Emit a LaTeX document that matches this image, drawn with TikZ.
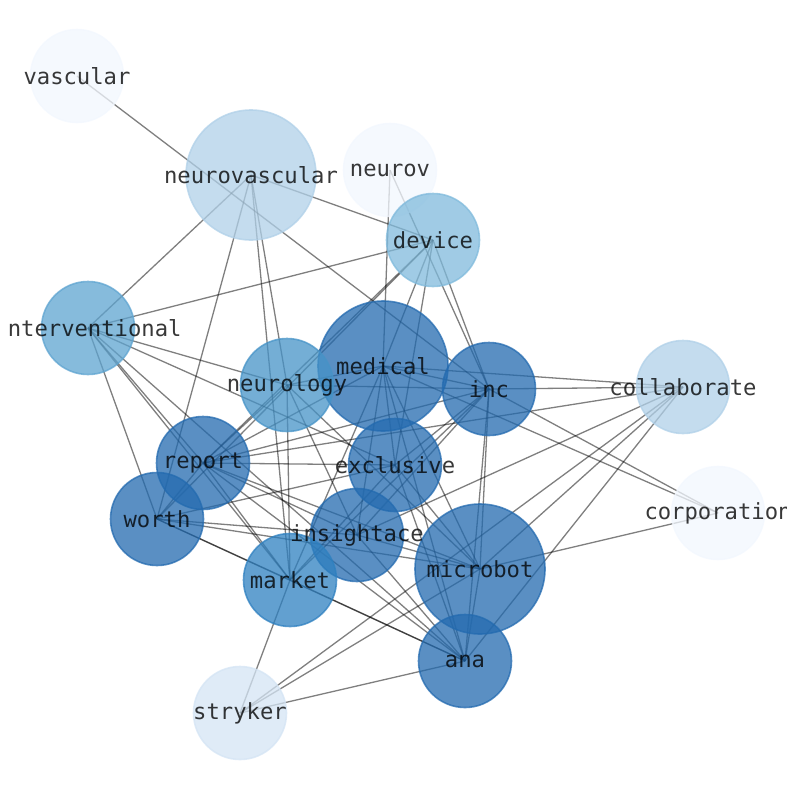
\documentclass[tikz,border=0pt]{standalone}
\usepackage{fontspec}
\newfontfamily\monofont{DejaVu Sans Mono}
\usetikzlibrary{backgrounds}
\definecolor{bl9}{HTML}{236AAF}
\definecolor{bl8}{HTML}{2E80C0}
\definecolor{bl7}{HTML}{4693C7}
\definecolor{bl6}{HTML}{5EA4D0}
\definecolor{bl5}{HTML}{80BADC}
\definecolor{bl3}{HTML}{B0D0E8}
\definecolor{bl2}{HTML}{D4E4F4}
\definecolor{bl1}{HTML}{F2F7FE}
\tikzset{
  word/.style={circle, inner sep=0pt, minimum size=93pt, line width=1.6pt,
    fill opacity=0.75, draw opacity=0.75},
  bigword/.style={word, minimum size=130pt},
  tag/.style={font=\monofont\fontsize{22.2}{26}\selectfont, text=black, text opacity=0.78},
  link/.style={draw=black, draw opacity=0.5, line width=1.3pt},
}
\begin{document}
\begin{tikzpicture}[x=1pt, y=-1pt]
  \useasboundingbox (0,0) rectangle (794,790);
  % words
  \node [word, fill=bl1, draw=bl1] (vascular) at (77,76) {};
  \node [bigword, fill=bl3, draw=bl3] (neurovascular) at (251,175) {};
  \node [word, fill=bl1, draw=bl1] (neurov) at (390,170) {};
  \node [word, fill=bl5, draw=bl5] (device) at (433,240) {};
  \node [word, fill=bl6, draw=bl6] (interventional) at (88,328) {};
  \node [bigword, fill=bl9, draw=bl9] (medical) at (383,366) {};
  \node [word, fill=bl7, draw=bl7] (neurology) at (287,385) {};
  \node [word, fill=bl9, draw=bl9] (inc) at (489,389) {};
  \node [word, fill=bl3, draw=bl3] (collaborate) at (683,387) {};
  \node [word, fill=bl9, draw=bl9] (report) at (203,463) {};
  \node [word, fill=bl9, draw=bl9] (exclusive) at (395,465) {};
  \node [word, fill=bl9, draw=bl9] (worth) at (157,519) {};
  \node [word, fill=bl9, draw=bl9] (insightace) at (357,535) {};
  \node [word, fill=bl1, draw=bl1] (corporation) at (718,513) {};
  \node [bigword, fill=bl9, draw=bl9] (microbot) at (480,569) {};
  \node [word, fill=bl8, draw=bl8] (market) at (290,580) {};
  \node [word, fill=bl9, draw=bl9] (ana) at (465,661) {};
  \node [word, fill=bl2, draw=bl2] (stryker) at (240,713) {};
  % links
  \begin{scope}[on background layer]
    \foreach \a/\b in {vascular/inc, neurov/medical, neurov/inc,
        neurovascular/interventional, neurovascular/device, neurovascular/worth,
        neurovascular/market, neurovascular/neurology,
        device/interventional, device/report, device/worth, device/medical,
        device/exclusive, device/inc,
        interventional/neurology, interventional/exclusive, interventional/report,
        interventional/market, interventional/worth, interventional/ana,
        medical/corporation, medical/collaborate, medical/market, medical/insightace,
        medical/exclusive, medical/microbot, medical/ana, medical/report,
        medical/inc, medical/neurology,
        inc/corporation, inc/collaborate, inc/microbot, inc/ana, inc/insightace,
        inc/market, inc/exclusive, inc/report, inc/neurology,
        collaborate/insightace, collaborate/microbot, collaborate/ana, collaborate/stryker,
        corporation/microbot,
        stryker/market, stryker/microbot, stryker/ana,
        worth/ana, worth/market, worth/insightace, worth/microbot, worth/exclusive,
        worth/report,
        market/ana, market/neurology,
        report/ana, report/exclusive, report/collaborate, report/microbot,
        report/market, report/insightace, report/neurology,
        exclusive/microbot, exclusive/ana, exclusive/market,
        insightace/microbot, insightace/ana, insightace/neurology,
        microbot/ana, microbot/neurology}
      \draw [link] (\a.center) -- (\b.center);
  \end{scope}
  % tags, cut at the plot frame as in the original
  \begin{scope}
    \clip (7,0) rectangle (786,790);
    \foreach \n in {vascular, neurovascular, neurov, device, interventional, medical,
        neurology, inc, collaborate, report, exclusive, worth, insightace,
        corporation, microbot, market, ana, stryker}
      \node [tag] (\n-tag) at (\n) {\n};
  \end{scope}
\end{tikzpicture}
\end{document}
